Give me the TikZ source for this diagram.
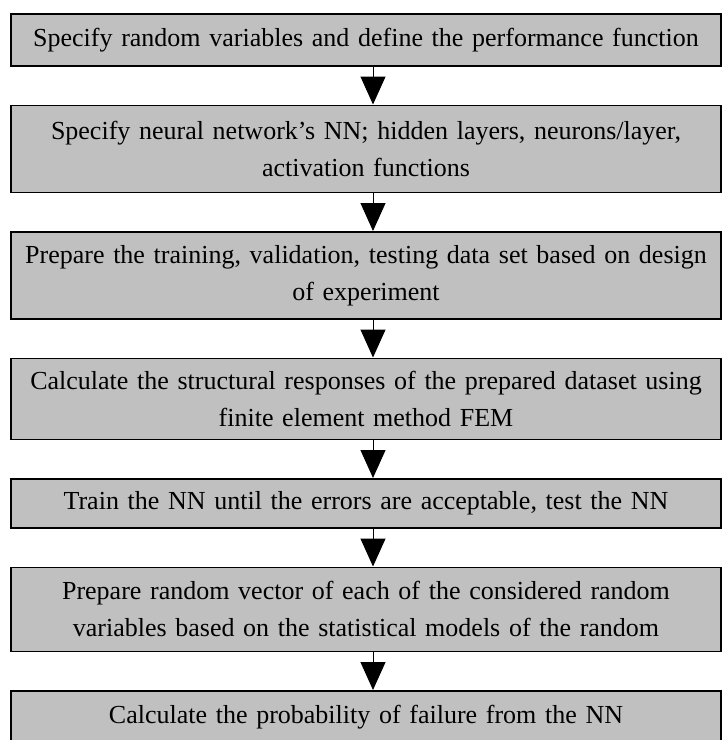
\documentclass[tikz,border=0pt]{standalone}
\usepackage{fontspec}
\setmainfont{Liberation Serif}
\usetikzlibrary{positioning,arrows.meta}
\definecolor{boxgray}{RGB}{192,192,192}

\begin{document}
\begin{tikzpicture}[x=1pt,y=1pt,
			stepbox/.style={draw,line width=0.75pt,fill=boxgray,minimum width=355pt,text width=350pt,align=center,inner sep=0pt,font=\fontsize{13}{18.5}\selectfont},
			flow/.style={-{Triangle[width=12.5pt,length=14pt]},line width=0.5pt},
			node distance=19pt]
			\useasboundingbox (0,0) rectangle (362.5,-370);
			\node[stepbox,minimum height=26pt,anchor=north] (spec) at (183,-6.5) {Specify random variables and define the performance function};
			\node[stepbox,minimum height=43.5pt,below=of spec] (net) {Specify neural network's NN; hidden layers, neurons/layer,\\activation functions};
			\node[stepbox,minimum height=43.5pt,below=of net] (data) {Prepare the training, validation, testing data set based on design\\of experiment};
			\node[stepbox,minimum height=40.5pt,below=of data] (fem) {Calculate the structural responses of the prepared dataset using\\finite element method FEM};
			\node[stepbox,minimum height=24.5pt,below=of fem] (train) {Train the NN until the errors are acceptable, test the NN};
			\node[stepbox,minimum height=42pt,below=of train] (rand) {Prepare random vector of each of the considered random\\variables based on the statistical models of the random};
			\node[stepbox,minimum height=26pt,below=of rand] (prob) {Calculate the probability of failure from the NN};
			\foreach \a/\b in {spec/net,net/data,data/fem,fem/train,train/rand,rand/prob}
				\draw[flow] ([xshift=3.5pt]\a.south) -- ([xshift=3.5pt]\b.north);
		\end{tikzpicture}
\end{document}
